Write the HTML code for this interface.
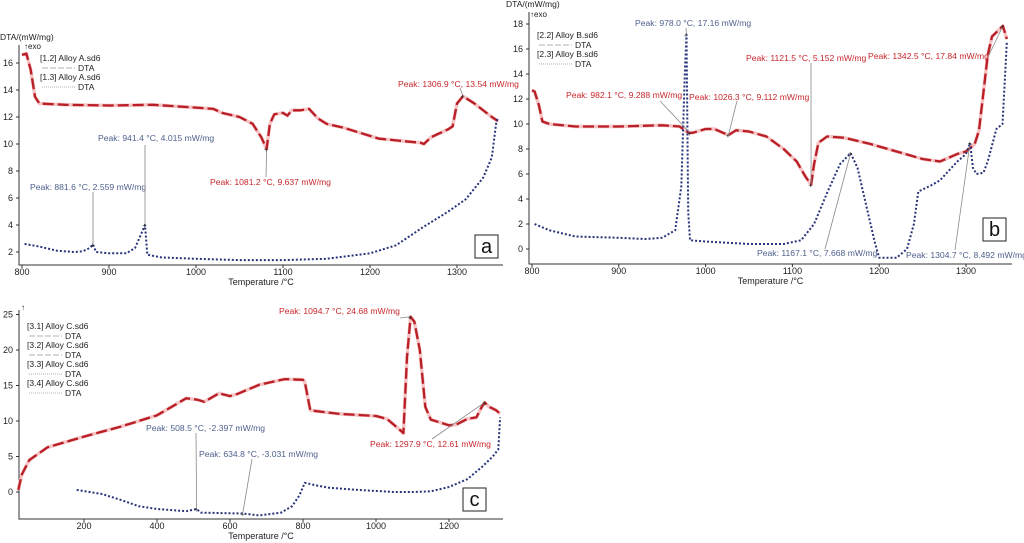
<!DOCTYPE html>
<html><head><meta charset="utf-8"><style>
body{margin:0;background:#fff}
svg{display:block;font-family:"Liberation Sans",sans-serif}
</style></head><body>
<svg id="s" width="1024" height="543" viewBox="0 0 1024 543"></svg>
<script>
// ---------- data ----------
const aRedT=[800,805,810,815,820,850,900,950,1000,1020,1030,1050,1065,1075,1081.2,1085,1090,1100,1105,1110,1120,1130,1140,1150,1170,1190,1210,1240,1258,1262,1270,1290,1295,1300,1306.9,1320,1340,1347];
const aRedV=[16.6,16.7,15.5,13.5,13.0,12.9,12.85,12.9,12.7,12.6,12.3,12.0,11.5,10.5,9.64,11.5,12.2,12.3,12.1,12.5,12.5,12.6,11.9,11.5,11.2,10.8,10.4,10.2,10.1,10.0,10.5,11.1,11.3,13.0,13.54,13.0,12.0,11.7];
const aBlueT=[803,820,840,860,870,878,881.6,885,900,920,930,938,941.4,944,960,1000,1050,1100,1150,1200,1230,1260,1290,1310,1330,1340,1345,1347];
const aBlueV=[2.6,2.4,2.1,2.0,2.05,2.3,2.56,2.0,1.9,1.9,2.3,3.5,4.0,1.8,1.6,1.5,1.4,1.4,1.5,1.9,2.5,3.8,5.0,5.9,7.5,9.0,11.5,12.0];
const bRedT=[800,803,808,812,820,850,900,950,970,978,982.1,985,1000,1010,1020,1026.3,1035,1050,1070,1090,1105,1115,1121.5,1125,1130,1140,1160,1190,1220,1250,1270,1290,1300,1310,1315,1320,1325,1330,1342.5,1347];
const bRedV=[12.7,12.6,11.5,10.2,10.0,9.8,9.8,9.9,9.8,9.4,9.29,9.3,9.6,9.6,9.3,9.11,9.5,9.4,9.0,8.0,7.0,5.8,5.15,6.8,8.5,9.0,8.9,8.4,7.8,7.2,7.0,7.6,7.8,8.4,9.5,12.5,15.5,17.0,17.84,16.8];
const bBlueT=[803,820,850,900,930,950,965,972,976,978,980,982,1000,1050,1090,1110,1125,1140,1155,1167.1,1175,1185,1195,1200,1220,1232,1240,1245,1260,1270,1290,1300,1304.7,1308,1312,1320,1325,1335,1342,1347];
const bBlueV=[2.0,1.5,1.0,0.9,0.8,0.9,1.5,5.0,14.0,17.16,3,0.7,0.6,0.4,0.4,0.7,2.0,4.5,6.8,7.67,6.5,3.5,0.5,-0.7,-0.7,0,2,4.6,5.1,5.5,7.0,7.6,8.49,6.5,6.0,6.1,7.0,9.6,10.0,16.5];
const cRedT=[20,30,50,100,200,300,400,450,480,510,530,570,600,620,680,750,800,805,820,900,1000,1030,1060,1075,1085,1094.7,1105,1120,1135,1150,1200,1220,1250,1275,1290,1297.9,1310,1330,1340];
const cRedV=[0.3,2.5,4.5,6.3,7.8,9.2,10.8,12.3,13.2,13.0,12.7,13.9,13.5,13.8,15.1,15.9,15.8,15.5,11.5,11.0,10.7,10.3,9.0,8.3,19.0,24.68,24.0,20.0,12.0,10.2,9.4,9.5,10.3,10.5,12.0,12.61,12.0,11.5,11.0];
const cBlueT=[180,250,300,350,400,480,508.5,520,600,634.8,680,740,770,790,805,830,870,950,1050,1100,1150,1200,1250,1290,1320,1335,1340];
const cBlueV=[0.3,-0.3,-1.1,-2.0,-2.4,-2.7,-2.4,-2.9,-3.0,-3.03,-3.3,-2.9,-2.0,-0.5,1.3,1.0,0.6,0.3,0.0,0.0,0.1,0.7,1.8,3.5,5.0,6.0,10.5];
const aXTicks=[800,900,1000,1100,1200,1300], aYTicks=[2,4,6,8,10,12,14,16];
const bXTicks=[800,900,1000,1100,1200,1300], bYTicks=[0,2,4,6,8,10,12,14,16,18];
const cXTicks=[200,400,600,800,1000,1200], cYTicks=[0,5,10,15,20,25];

const NS="http://www.w3.org/2000/svg", S=document.getElementById('s');
function el(t,a,p){const e=document.createElementNS(NS,t);for(const k in a)e.setAttribute(k,a[k]);(p||S).appendChild(e);return e;}
function txt(x,y,s,a,p){const e=el('text',Object.assign({x:x,y:y,'font-size':9,fill:'#222'},a||{}),p);e.textContent=s;return e;}

const RED='#b81f27', BLUE='#27337a', RT='#c8262c', BT='#4d5f8c';
const panels=[
 {id:'a',x:T=>22+(T-800)*0.87,y:v=>252-(v-2)*13.5,left:19,right:503,top:45,bot:265,xt:aXTicks,yt:aYTicks,box:[475,235],
  red:[aRedT,aRedV],blue:[aBlueT,aBlueV]},
 {id:'b',x:T=>532+(T-800)*0.868,y:v=>249-v*12.5,left:529,right:1012,top:12,bot:264,xt:bXTicks,yt:bYTicks,box:[983,218],
  red:[bRedT,bRedV],blue:[bBlueT,bBlueV]},
 {id:'c',x:T=>11+T*0.365,y:v=>492-v*7.1,left:19,right:503,top:310,bot:519,xt:cXTicks,yt:cYTicks,box:[463,488],
  red:[cRedT,cRedV],blue:[cBlueT,cBlueV]}
];
panels.forEach(P=>{
 const g=el('g',{});
 
 
 const ax=el('path',{d:`M${P.left},${P.top}V${P.bot}H${P.right}`,stroke:'#333',fill:'none','stroke-width':1},g);
 
 
 P.xt.forEach(t=>{const x=P.x(t);el('line',{x1:x,x2:x,y1:P.bot,y2:P.bot+3,stroke:'#333'},g);
  const l=txt(x,P.bot+10,t,{'text-anchor':'middle'},g);
  
  });
 P.yt.forEach(t=>{const y=P.y(t);el('line',{x1:P.left-3,x2:P.left,y1:y,y2:y,stroke:'#333'},g);
  const l=txt(P.left-6,y+3,t,{'text-anchor':'end'},g);
  
  });
 const xt=txt((P.left+P.right)/2,P.bot+20,'Temperature /°C',{'text-anchor':'middle'},g);
 
 
 const line=(T,V,col,dash,w,name)=>{let d='';T.forEach((t,i)=>{d+=(i?'L':'M')+P.x(t).toFixed(1)+','+P.y(V[i]).toFixed(1);});
  const p=el('path',{d:d,stroke:col,fill:'none','stroke-width':w,'stroke-dasharray':dash,'stroke-linejoin':'round'},g);
  
  };
 line(P.red[0],P.red[1],'#f6c4c4','none',3.5,'red-series-halo-'+P.id);
 line(P.red[0],P.red[1],RED,'11 4',2.3,'red-dta-series-'+P.id);
 line(P.blue[0],P.blue[1],BLUE,'2 2',2,'blue-dta-series-'+P.id);
 const b=el('rect',{x:P.box[0],y:P.box[1],width:23,height:23,fill:'#fff',stroke:'#222','stroke-width':1},g);
 
 
 txt(P.box[0]+11.5,P.box[1]+18,P.id,{'text-anchor':'middle','font-size':20,fill:'#111'},g);
});
function ann(P,T,V,s,tx,ty,lx,ly,col){
 const px=P.x(T),py=P.y(V);
 el('line',{x1:lx,y1:ly,x2:px,y2:py,stroke:'#888','stroke-width':0.8});
 el('text',{x:px-2.5,y:py+3,'font-size':7,fill:'#222'}).textContent='+';
 const t=txt(tx,ty,s,{fill:col,'font-size':8.6});
 
 
}
const [A,B,C]=panels;
ann(A,881.6,2.559,'Peak: 881.6 °C, 2.559 mW/mg',30,190,93,192,BT);
ann(A,941.4,4.015,'Peak: 941.4 °C, 4.015 mW/mg',98,141,145,145,BT);
ann(A,1081.2,9.637,'Peak: 1081.2 °C, 9.637 mW/mg',210,185,266,177,RT);
ann(A,1306.9,13.54,'Peak: 1306.9 °C, 13.54 mW/mg',398,87,460,88,RT);
ann(B,978,17.16,'Peak: 978.0 °C, 17.16 mW/mg',635,26,686,28,BT);
ann(B,982.1,9.288,'Peak: 982.1 °C, 9.288 mW/mg',566,98,660,101,RT);
ann(B,1026.3,9.112,'Peak: 1026.3 °C, 9.112 mW/mg',689,100,737,101,RT);
ann(B,1121.5,5.152,'Peak: 1121.5 °C, 5.152 mW/mg',746,61,811,63,RT);
ann(B,1342.5,17.84,'Peak: 1342.5 °C, 17.84 mW/mg',868,59,988,57,RT);
ann(B,1167.1,7.668,'Peak: 1167.1 °C, 7.668 mW/mg',757,256,825,249,BT);
ann(B,1304.7,8.492,'Peak: 1304.7 °C, 8.492 mW/mg',906,258,955,250,BT);
ann(C,1094.7,24.68,'Peak: 1094.7 °C, 24.68 mW/mg',279,314,400,318,RT);
ann(C,1297.9,12.61,'Peak: 1297.9 °C, 12.61 mW/mg',370,447,432,439,RT);
ann(C,508.5,-2.397,'Peak: 508.5 °C, -2.397 mW/mg',146,431,196,433,BT);
ann(C,634.8,-3.031,'Peak: 634.8 °C, -3.031 mW/mg',199,457,252,459,BT);
txt(0,40,'DTA/(mW/mg)',{'font-size':8.5});txt(24,49,'↑exo',{'font-size':8});
txt(506,7,'DTA/(mW/mg)',{'font-size':8.5});txt(530,17,'↑exo',{'font-size':8});
txt(21,310,'↑',{'font-size':8});
function leg(x,y,items){items.forEach((it,i)=>{const yy=y+i*19;
 const t=txt(x,yy,it[0],{'font-size':8.5});
 
 
 el('line',{x1:x+2,x2:x+35,y1:yy+7,y2:yy+7,stroke:'#999','stroke-width':0.8,'stroke-dasharray':it[1]?'6 2':'1 1'});
 txt(x+38,yy+10,'DTA',{'font-size':8.5});});}
leg(40,61,[['[1.2] Alloy A.sd6',1],['[1.3] Alloy A.sd6',0]]);
leg(537,38,[['[2.2] Alloy B.sd6',1],['[2.3] Alloy B.sd6',0]]);
leg(27,329,[['[3.1] Alloy C.sd6',1],['[3.2] Alloy C.sd6',1],['[3.3] Alloy C.sd6',0],['[3.4] Alloy C.sd6',0]]);
</script>
</body></html>
